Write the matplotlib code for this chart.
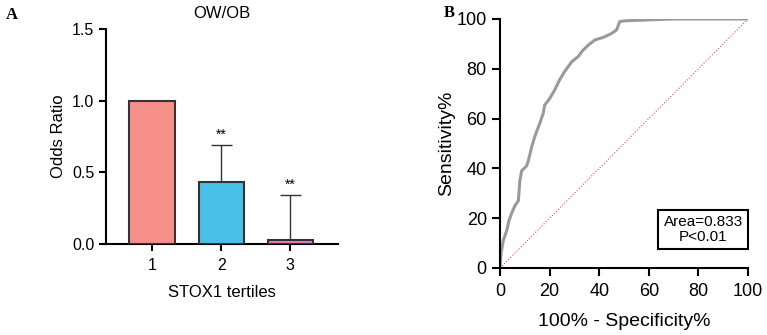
import numpy as np
import matplotlib.pyplot as plt

plt.rcParams['font.family'] = ['Liberation Sans', 'DejaVu Sans']

# 左圖：STOX1 三分位的 odds ratio
tertiles = ["1", "2", "3"]
odds_ratio = [1.0, 0.435, 0.03]
err_upper = [None, 0.69, 0.345]
stars = ["", "**", "**"]
bar_colors = ["#F58F88", "#49C0E8", "#E77DBE"]

# 右圖：ROC 曲線
fpr = [0, 0.4, 1.3, 2.7, 3.6, 4.7, 6.0, 7.4, 8.0, 8.7, 10.7, 11.4, 12.8, 14.0,
       16.0, 17.4, 18.0, 20.0, 22.0, 24.0, 26.0, 28.9, 31.5, 33.5, 35.6, 38.3,
       41.6, 45.0, 47.0, 48.3, 51.0, 59.0, 70.0, 100]
tpr = [0, 5.8, 11.0, 15.0, 19.0, 22.0, 25.0, 27.0, 35.0, 39.0, 41.0, 43.0, 48.7,
       52.7, 58.0, 62.0, 65.4, 68.0, 71.4, 75.5, 78.8, 82.8, 84.9, 87.5, 89.5,
       91.6, 92.6, 94.2, 95.6, 99.0, 99.3, 99.6, 100, 100]
auc_text = "Area=0.833\nP<0.01"

fig = plt.figure(figsize=(7.67, 3.35), dpi=100)

# ---- A ----
ax1 = fig.add_axes([0.1382, 0.2716, 0.3025, 0.6418])
x = np.arange(1, len(tertiles) + 1)
ax1.bar(x, odds_ratio, width=0.66, color=bar_colors, edgecolor="#333333",
        linewidth=1.5, zorder=3)
for xi, v, up, s in zip(x, odds_ratio, err_upper, stars):
    if up is None:
        continue
    ax1.vlines(xi, v, up, color="#333333", linewidth=1, zorder=2)
    ax1.hlines(up, xi - 0.15, xi + 0.15, color="#333333", linewidth=1, zorder=2)
    ax1.text(xi, up + 0.02, s, ha="center", va="bottom", fontsize=10)

ax1.set_xlim(0.33, 3.69)
ax1.set_ylim(0, 1.5)
ax1.set_yticks([0, 0.5, 1.0, 1.5])
ax1.set_xticks(x)
ax1.set_xticklabels(tertiles)
ax1.spines[["top", "right"]].set_visible(False)
ax1.spines[["left", "bottom"]].set_linewidth(1.5)
ax1.tick_params(width=1.5, length=5, labelsize=11.5)
ax1.tick_params(axis="x", pad=5)
ax1.set_ylabel("Odds Ratio", fontsize=12, labelpad=4)
ax1.set_xlabel("STOX1 tertiles", fontsize=12, labelpad=9)
ax1.set_title("OW/OB", fontsize=12, pad=8)
fig.text(0.007, 0.955, "A", fontsize=12, fontweight="bold",
         family="Liberation Serif", va="center")

# ---- B ----
ax2 = fig.add_axes([0.6519, 0.2, 0.3233, 0.7433])
ax2.plot([0, 100], [0, 100], color="#F05050", linestyle=":", linewidth=0.8)
ax2.plot(fpr, tpr, color="#9A9A9A", linewidth=2.2)
ax2.set_xlim(0, 100)
ax2.set_ylim(0, 100)
ax2.set_xticks(range(0, 101, 20))
ax2.set_yticks(range(0, 101, 20))
ax2.spines[["top", "right"]].set_visible(False)
ax2.spines[["left", "bottom"]].set_linewidth(1.5)
ax2.tick_params(width=1.5, length=6, labelsize=13)
ax2.tick_params(axis="x", pad=5)
ax2.set_xlabel("100% - Specificity%", fontsize=14, labelpad=9)
ax2.set_ylabel("Sensitivity%", fontsize=14, labelpad=1)
ax2.text(0.82, 0.155, auc_text, transform=ax2.transAxes, ha="center",
         va="center", fontsize=11, linespacing=1.05,
         bbox=dict(boxstyle="square,pad=0.35", facecolor="white",
                   edgecolor="black", linewidth=1.5))
fig.text(0.578, 0.962, "B", fontsize=12, fontweight="bold",
         family="Liberation Serif", va="center")

fig.savefig("out.png", dpi=100)
